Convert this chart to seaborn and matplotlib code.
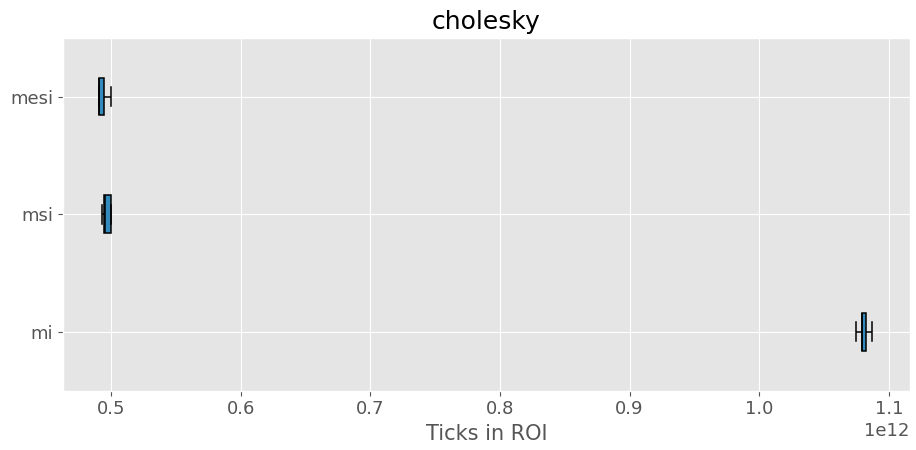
import matplotlib
matplotlib.use("Agg")
import matplotlib.pyplot as plt
import seaborn as sns
import pandas as pd

# Ticks spent in the region of interest, per protocol (five-number samples)
protocols = ["mesi", "msi", "mi"]
mesi_ticks = [0.4904e12, 0.4906e12, 0.4908e12, 0.4946e12, 0.4998e12]
msi_ticks = [0.4931e12, 0.4946e12, 0.4949e12, 0.5002e12, 0.5002e12]
mi_ticks = [1.0749e12, 1.0789e12, 1.0792e12, 1.0826e12, 1.0867e12]

rows = []
for name, vals in zip(protocols, [mesi_ticks, msi_ticks, mi_ticks]):
    for v in vals:
        rows.append({"protocol": name, "ticks": v})
df = pd.DataFrame(rows)

plt.style.use("ggplot")
plt.rcParams["font.family"] = ["DejaVu Sans"]

fig, ax = plt.subplots(figsize=(9.16, 4.5), dpi=100)
fig.subplots_adjust(left=0.069, right=0.993, top=0.916, bottom=0.132)

sns.boxplot(data=df, x="ticks", y="protocol", order=protocols, orient="h",
            color="#348ABD", saturation=1, width=0.32, linecolor="black",
            linewidth=1.1, whis=1.5, ax=ax)

ax.set_xlim(0.463e12, 1.116e12)
ax.grid(True, axis="both", color="white")
ax.set_axisbelow(True)
ax.set_title("cholesky", fontsize=18, color="black")
ax.set_xlabel("Ticks in ROI", fontsize=15, color="#555555")
ax.set_ylabel("")
ax.tick_params(axis="both", labelsize=13, colors="#555555")
ax.xaxis.get_offset_text().set_fontsize(13)
ax.xaxis.get_offset_text().set_color("#555555")

fig.savefig("out.png", dpi=100)
